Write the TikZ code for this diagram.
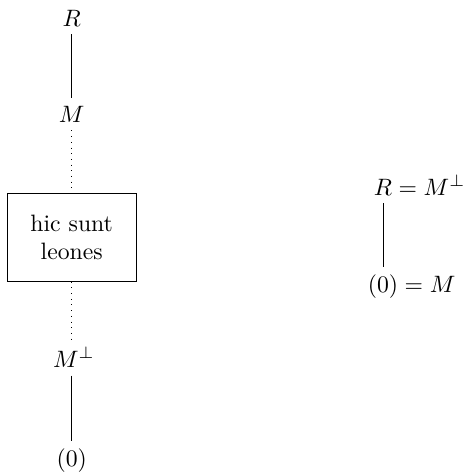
\documentclass[tikz,border=0pt]{standalone}
\begin{document}
\begin{tikzpicture}[x=1pt,y=1pt,
  lbl/.style={inner sep=3.33pt, anchor=base},
  boxnode/.style={draw, align=center, minimum width=54.6pt, minimum height=36.9pt, inner sep=0pt},
  solidedge/.style={line width=0.4pt},
  dotedge/.style={dotted, line width=0.4pt}]
\useasboundingbox (0,0) rectangle (197,-200.4);
\node[lbl] (R) at (30.25,-11) {$R$};
\node[lbl] (M) at (30.25,-51.5) {$M$};
\node[boxnode] (box) at (30.25,-100.2) {hic sunt\\leones};
\node[lbl] (Mp) at (31.2,-154.9) {$M^\perp$};
\node[lbl] (zero) at (30.25,-197) {$(0)$};
\node[lbl] (R2) at (161.6,-82.3) {$R$\rlap{${}=M^\perp$}};
\node[lbl] (zero2) at (161.6,-123.6) {$(0)$\rlap{${}=M$}};
\draw[solidedge] (R) -- (M);
\draw[dotedge] (M) -- (box);
\draw[dotedge] (box.south) -- (box.south |- Mp.north);
\draw[solidedge] (Mp.south -| zero.north) -- (zero.north);
\draw[solidedge] (R2) -- (zero2);
\end{tikzpicture}
\end{document}
